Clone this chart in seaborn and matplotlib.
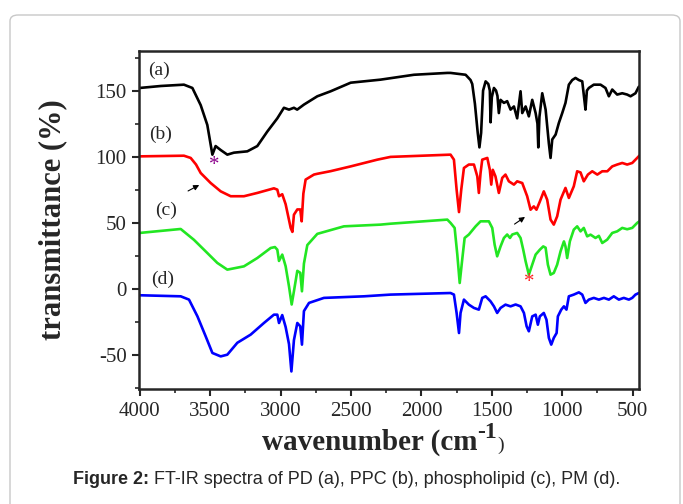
import numpy as np
import pandas as pd
import seaborn as sns
import matplotlib
matplotlib.use("Agg")
import matplotlib.pyplot as plt
from matplotlib.patches import FancyBboxPatch

# ---------------- data ----------------
wn_a = [4000, 3850, 3686, 3626, 3567, 3520, 3496, 3484, 3461, 3425, 3378, 3331, 3236, 3165, 3094, 3023,
        2976, 2940, 2905, 2882, 2834, 2739, 2644, 2502, 2290, 2053, 1816, 1793, 1686, 1651, 1639, 1620,
        1600, 1588, 1576, 1562, 1544, 1525, 1514, 1509, 1500, 1485, 1470, 1460, 1450, 1438, 1414, 1391,
        1367, 1343, 1320, 1296, 1284, 1260, 1237, 1213, 1189, 1176, 1170, 1162, 1142, 1118, 1095, 1083,
        1071, 1047, 1024, 1000, 977, 953, 929, 906, 882, 858, 845, 835, 825, 811, 776, 728, 693, 669,
        645, 610, 574, 539, 515, 480, 456]
t_a = [152, 153.5, 154.5, 152, 139, 124, 109, 101.5, 108, 105, 101.5, 103, 104, 108, 119, 129,
       137, 135.6, 137, 135.6, 139.4, 145.7, 149.5, 156, 158.3, 162, 163.4, 163.4, 162, 158, 155, 140,
       118, 107, 118, 150, 157, 155, 150, 126, 145, 152, 150, 146, 133, 143, 140.7, 142,
       135.6, 138, 129, 149.5, 133, 138, 130.5, 143, 133, 125, 107, 130, 148, 135.6, 110, 99,
       113, 116.7, 125.5, 133, 140.7, 154.5, 158, 159.6, 158, 157, 145, 135.6, 150, 152, 154.5, 154.5, 152, 145.7,
       150.8, 147, 148, 147, 145.7, 148, 153]

wn_b = [4000, 3686, 3638, 3600, 3567, 3496, 3425, 3354, 3260, 3165, 3047, 3023, 3011, 2988, 2964, 2940,
        2928, 2916, 2905, 2881, 2860, 2850, 2838, 2822, 2763, 2739, 2644, 2502, 2313, 2219, 1793, 1769,
        1750, 1733, 1717, 1698, 1663, 1627, 1603, 1592, 1580, 1568, 1532, 1514, 1504, 1493, 1474, 1450,
        1426, 1403, 1379, 1343, 1320, 1284, 1249, 1225, 1202, 1183, 1159, 1131, 1107, 1083, 1060, 1036,
        1012, 977, 953, 918, 894, 870, 847, 818, 787, 751, 716, 680, 645, 610, 574, 539, 503, 468, 452]
t_b = [100.2, 100.7, 99, 94, 87.6, 80, 73.7, 70, 70, 72.5, 76, 75, 70, 71.5, 64, 52,
       46, 43, 56, 60, 60, 51, 72, 82.6, 86.4, 87, 89, 92.6, 97.7, 99.8, 101.5, 97.7,
       75, 58, 75, 91.4, 94, 94, 85, 72.5, 87.6, 97.7, 99, 90, 78.8, 90, 85, 72.5,
       83.9, 86.4, 81.3, 78.8, 81.3, 80, 70, 59.8, 62.3, 59.8, 66, 73.7, 67.4, 52.3, 48.5, 54.8,
       67.4, 76.3, 68.7, 77.5, 88.9, 88, 81.3, 86.4, 88.9, 86.4, 88.9, 88.9, 92.6, 94, 95.2, 94, 95.2, 99, 100.8]

wn_c = [4000, 3709, 3615, 3520, 3449, 3378, 3260, 3165, 3070, 3040, 3023, 3011, 2988, 2964, 2940, 2921,
        2905, 2881, 2860, 2848, 2834, 2810, 2739, 2550, 2290, 2219, 1816, 1793, 1764, 1745, 1728, 1709,
        1693, 1663, 1615, 1580, 1521, 1497, 1480, 1462, 1438, 1414, 1391, 1371, 1355, 1320, 1296, 1277,
        1260, 1237, 1213, 1189, 1159, 1135, 1118, 1102, 1083, 1060, 1036, 1012, 988, 977, 965, 946,
        918, 894, 870, 847, 823, 799, 764, 740, 716, 681, 645, 610, 574, 539, 503, 468, 452]
t_c = [42.2, 45.2, 37, 27, 19.5, 14.4, 16.9, 23.2, 30.8, 31.5, 29.5, 21, 25.8, 17, 1.7, -12,
       -2, 13.5, 12, -2, 19, 33, 41.5, 47.2, 48.5, 49.2, 52.3, 49.8, 46, 25.8, 4.3, 23.2,
       38.4, 41, 47.2, 51, 51, 46, 33.3, 24.5, 32, 38.4, 41, 38.4, 41, 42.2, 38.4, 29.5,
       20.7, 10.6, 18.2, 25.8, 29.5, 32, 31, 18.2, 10.6, 11.9, 18.2, 28.3, 35.8, 32, 23.2, 35.8,
       44.7, 47.2, 43.4, 46, 39.6, 40.9, 38.4, 40, 34.6, 37.1, 42.2, 43.4, 46, 45, 46, 49.8, 51]

wn_d = [4000, 3709, 3650, 3590, 3532, 3484, 3425, 3378, 3307, 3212, 3118, 3047, 3023, 3011, 2988, 2964,
        2940, 2923, 2905, 2881, 2860, 2848, 2834, 2798, 2692, 2408, 2219, 1793, 1769, 1750, 1733, 1722,
        1698, 1663, 1627, 1592, 1568, 1544, 1509, 1485, 1462, 1438, 1403, 1367, 1331, 1296, 1272, 1253,
        1237, 1213, 1189, 1173, 1159, 1131, 1112, 1095, 1078, 1060, 1040, 1031, 1007, 988, 970, 953,
        918, 882, 858, 835, 811, 776, 740, 704, 669, 634, 598, 563, 527, 503, 480, 456]
t_d = [-5, -5.8, -8.3, -21, -36, -48.7, -51.3, -50, -41, -34.8, -26, -19.7, -19.7, -26, -20, -29,
       -42, -62.7, -39, -26, -28.5, -42.4, -17, -10.8, -7, -5.8, -4.5, -3.3, -4.5, -18.4, -33.6, -18.4,
       -8.3, -12.1, -14.6, -15.9, -7, -5.8, -9.6, -13.4, -18.4, -14.6, -12.1, -13.4, -12, -13.4, -18.4, -28.5,
       -32.3, -21, -19.7, -27.3, -21, -18.4, -23.5, -37.3, -42.4, -37.3, -33.6, -21, -15.9, -13.4, -15.9, -5.8,
       -4.5, -2.8, -4.5, -10.8, -8.3, -7, -8.3, -7, -8.3, -5.8, -8.3, -7, -8.3, -7, -4.5, -3.3]

samples = ["(a)", "(b)", "(c)", "(d)"]
colors = ["#000000", "#ff0000", "#22e622", "#0000ff"]
x_ticks = [4000, 3500, 3000, 2500, 2000, 1500, 1000, 500]
y_ticks = [-50, 0, 50, 100, 150]
caption_bold = "Figure 2:"
caption_rest = " FT-IR spectra of PD (a), PPC (b), phospholipid (c), PM (d)."

frames = []
for name, w, t in zip(samples, [wn_a, wn_b, wn_c, wn_d], [t_a, t_b, t_c, t_d]):
    frames.append(pd.DataFrame({"wavenumber": w, "transmittance": t, "sample": name}))
df = pd.concat(frames, ignore_index=True)

# ---------------- plot ----------------
sns.set_style("ticks")
serif = ["Liberation Serif", "DejaVu Serif"]
plt.rcParams["font.family"] = serif
plt.rcParams["axes.unicode_minus"] = False

fig = plt.figure(figsize=(6.83, 5.04), dpi=100)
ax = fig.add_axes([139 / 683, 1 - 389 / 504, 500 / 683, 338 / 504])

sns.lineplot(data=df, x="wavenumber", y="transmittance", hue="sample",
             palette=dict(zip(samples, colors)), sort=False, estimator=None,
             linewidth=1.9, legend=False, ax=ax)

ax.set_xlim(4005, 455)
ax.set_ylim(-76, 180)
ax.set_xticks(x_ticks)
ax.set_yticks(y_ticks)
ax.set_xticklabels([str(v) for v in x_ticks])
ax.set_yticklabels([str(v) for v in y_ticks])
ax.set_xticks(np.arange(3750, 450, -500), minor=True)
ax.set_yticks(np.arange(-75, 176, 50), minor=True)
ax.tick_params(axis="both", which="major", direction="out", length=5, width=1.5,
               labelsize=15, pad=4)
ax.tick_params(axis="both", which="minor", direction="out", length=3, width=1.2)
for lab in ax.get_xticklabels() + ax.get_yticklabels():
    lab.set_fontfamily(serif)
for sp in ax.spines.values():
    sp.set_linewidth(1.8)
    sp.set_visible(True)

# axis labels
ax.set_ylabel("transmittance (%)", fontsize=22, fontweight="bold", labelpad=20)
ax.set_xlabel("")
xl = fig.text(0.5, 0, "wavenumber (cm", fontsize=21, fontweight="bold", family=serif,
              ha="left", va="baseline")
fig.canvas.draw()
w1 = xl.get_window_extent().width
sup = fig.text(0, 0, "-1", fontsize=17, fontweight="bold", family=serif, ha="left", va="baseline")
par = fig.text(0, 0, ")", fontsize=14, family=serif, ha="left", va="baseline")
fig.canvas.draw()
w2 = sup.get_window_extent().width
w3 = par.get_window_extent().width
total = w1 + w2 + w3
x0 = 383 - total / 2
base = 504 - 450
xl.set_position((x0 / 683, base / 504))
sup.set_position(((x0 + w1) / 683, (base + 12) / 504))
par.set_position(((x0 + w1 + w2) / 683, base / 504))

# curve labels
for name, x, y in zip(samples, [3863, 3851, 3815, 3839], [165, 116.7, 59.3, 6.8]):
    ax.text(x, y, name, fontsize=14, ha="center", va="center")

# asterisks
ax.text(3473, 93, "*", color="#8b008b", fontsize=15, ha="center", va="center")
ax.text(1237, 4.5, "*", color="#ff2020", fontsize=15, ha="center", va="center")

# arrows
ax.annotate("", xy=(3560, 79.5), xytext=(3674, 73),
            arrowprops=dict(arrowstyle="-|>", color="black", lw=0.8, mutation_scale=8))
ax.annotate("", xy=(1248, 55.5), xytext=(1355, 47.7),
            arrowprops=dict(arrowstyle="-|>", color="black", lw=0.8, mutation_scale=8))

# outer frame
box = FancyBboxPatch((10 / 683, -0.05), 670 / 683, 1 - 15 / 504 + 0.05,
                     boxstyle="round,pad=0,rounding_size=0.012",
                     transform=fig.transFigure, fill=False, edgecolor="#c8c8c8",
                     linewidth=1.0, zorder=0)
fig.patches.append(box)

# caption
sans = ["Liberation Sans Narrow", "Liberation Sans", "DejaVu Sans"]
cap_y = 1 - 480 / 504
t1 = fig.text(0, cap_y, caption_bold, fontsize=13, fontweight="bold",
              family=sans, ha="left", va="center")
t2 = fig.text(0, cap_y, caption_rest, fontsize=13, family=sans, ha="left", va="center")
fig.canvas.draw()
b1 = t1.get_window_extent().width
b2 = t2.get_window_extent().width
cx0 = 347 - (b1 + b2) / 2
t1.set_position((cx0 / 683, cap_y))
t2.set_position(((cx0 + b1) / 683, cap_y))

fig.savefig("out.png", dpi=100)
